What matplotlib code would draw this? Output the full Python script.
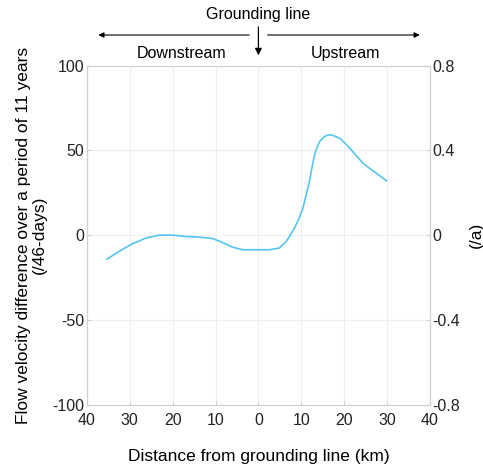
import matplotlib
matplotlib.use("Agg")
import matplotlib.pyplot as plt
from matplotlib.ticker import FuncFormatter

plt.rcParams['font.family'] = ['Liberation Sans', 'DejaVu Sans']
plt.rcParams['axes.unicode_minus'] = False

# distance from grounding line (km), negative = downstream
dist_km = [-35.3, -32.5, -29.4, -26.3, -23.2, -20.0, -16.9, -13.8, -10.7, -8.4,
           -6.0, -3.7, -0.5, 2.6, 4.9, 6.5, 7.4, 8.4, 9.4, 10.4, 11.1, 11.9,
           12.5, 13.1, 13.7, 14.3, 15.4, 16.2, 17.0, 18.9, 20.1, 21.3, 22.8,
           24.4, 26.0, 27.5, 29.9]
# flow velocity difference (/46-days)
vel_diff = [-14.0, -9.5, -5.0, -1.7, 0.1, 0.1, -0.7, -1.1, -1.9, -4.2,
            -7.0, -8.5, -8.5, -8.5, -7.5, -3.6, 0.0, 4.2, 9.5, 16.0, 23.5, 31.7,
            40.0, 47.4, 52.0, 55.3, 58.2, 59.0, 59.2, 57.3, 54.5, 51.4, 47.0,
            42.5, 39.3, 36.6, 32.1]

x_ticks = [-40, -30, -20, -10, 0, 10, 20, 30, 40]
y_ticks = [-100, -50, 0, 50, 100]
y2_ticks = [-0.8, -0.4, 0, 0.4, 0.8]

fig = plt.figure(figsize=(4.83, 4.65), dpi=100)
ax = fig.add_axes([0.180, 0.129, 0.710, 0.730])

grey = "#d0d0d0"
ax.plot(dist_km, vel_diff, color="#55c4f0", lw=1.2)
ax.set_xlim(-40, 40)
ax.set_ylim(-100, 100)
ax.set_xticks(x_ticks)
ax.set_yticks(y_ticks)
ax.xaxis.set_major_formatter(FuncFormatter(lambda v, p: "%d" % abs(v)))
ax.grid(True, color="#efefef", lw=0.8)
for s in ax.spines.values():
    s.set_color(grey)
ax.tick_params(axis="both", direction="in", length=3, color=grey,
               labelsize=11.5, labelcolor="#222222", pad=2)
ax.tick_params(axis="x", pad=6)
ax.set_xlabel("Distance from grounding line (km)", fontsize=12.5, labelpad=15)
ax.set_ylabel("Flow velocity difference over a period of 11 years\n(/46-days)",
              fontsize=12.5, labelpad=4, linespacing=1.05)

ax2 = ax.twinx()
ax2.set_ylim(-0.8, 0.8)
ax2.set_yticks(y2_ticks)
ax2.yaxis.set_major_formatter(FuncFormatter(lambda v, p: "0" if v == 0 else "%.1f" % v))
for s in ax2.spines.values():
    s.set_color(grey)
ax2.tick_params(axis="y", direction="in", length=3, color=grey,
                labelsize=11.5, labelcolor="#222222", pad=2)
ax2.set_ylabel("(/a)", fontsize=12.5, labelpad=6)

# grounding line annotations above the plot
tr = ax.get_xaxis_transform()
ax.text(0, 1.149, "Grounding line", transform=tr, ha="center", va="center", fontsize=11.5)
ax.annotate("", xy=(0, 1.022), xytext=(0, 1.122), xycoords=tr, textcoords=tr,
            arrowprops=dict(arrowstyle="-|>", color="black", lw=0.9, mutation_scale=10))
ax.annotate("", xy=(-38.0, 1.090), xytext=(-1.5, 1.090), xycoords=tr, textcoords=tr,
            arrowprops=dict(arrowstyle="-|>", color="black", lw=0.8, mutation_scale=8))
ax.annotate("", xy=(38.3, 1.090), xytext=(1.5, 1.090), xycoords=tr, textcoords=tr,
            arrowprops=dict(arrowstyle="-|>", color="black", lw=0.8, mutation_scale=8))
ax.text(-18.0, 1.037, "Downstream", transform=tr, ha="center", va="center", fontsize=11.5)
ax.text(20.4, 1.037, "Upstream", transform=tr, ha="center", va="center", fontsize=11.5)

fig.savefig("out.png", dpi=100)
